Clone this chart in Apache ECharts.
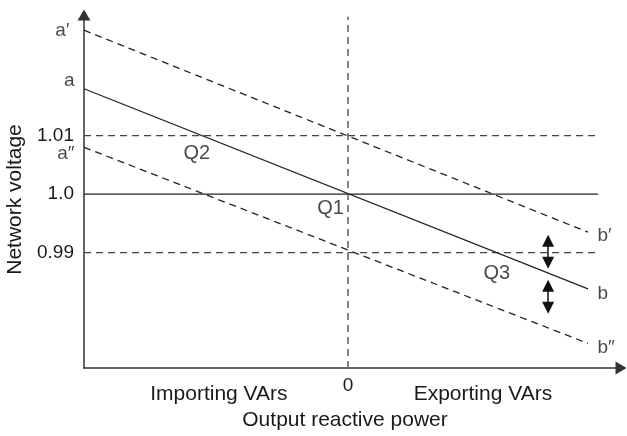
<!DOCTYPE html>
<html>
<head>
<meta charset="utf-8">
<script src="https://cdn.jsdelivr.net/npm/echarts@6/dist/echarts.min.js"></script>
<style>html,body{margin:0;padding:0;background:#fff;}#c{width:627px;height:436px;}</style>
</head>
<body>
<div id="c"></div>
<script>
// ---- data ----
const xMin = -1, xMax = 1.034;
const yMin = 0.9703, yMax = 1.0306;
const yTickValues = [0.99, 1.0, 1.01];
const yTickLabels = ['0.99', '1.0', '1.01'];
const xTickValues = [-0.489, 0, 0.511];
const xTickLabels = ['Importing VArs', '0', 'Exporting VArs'];
const lineA = [[-1, 1.018], [0.909, 0.9838]];
const lineAPrime = [[-1, 1.028], [0.909, 0.9935]];
const lineADouble = [[-1, 1.008], [0.909, 0.9745]];
const refDashed = [1.01, 0.99];
const refSolid = [1.0];
const refLineX = [-1, 0.947];
const zeroLine = [[0, 0.9703], [0, 1.0303]];
const qPoints = [[-0.556, 1.01], [0, 1.0], [0.556, 0.99]];
const qNames = ['Q2', 'Q1', 'Q3'];
const startNames = ['a′', 'a', 'a″'];
const endNames = ['b′', 'b', 'b″'];
const arrowX = 0.758;
const arrowUpper = [0.99205, 0.98829];
const arrowLower = [0.98436, 0.98060];

const FONT = "'Liberation Sans', Arial, Helvetica, sans-serif";
const FS = 19;      // digits and curve letters
const FS_WORD = 21; // words
const FS_Q = 20;
const TXT = '#1a1a1a';

function nearestLabel(vals, labels, v) {
  let best = 0;
  for (let i = 1; i < vals.length; i++) if (Math.abs(vals[i] - v) < Math.abs(vals[best] - v)) best = i;
  return labels[best];
}

const curves = [lineAPrime, lineA, lineADouble];

const series = [];
refDashed.forEach(v => series.push({
  type: 'line', data: refLineX.map(x => [x, v]), symbol: 'none', silent: true,
  lineStyle: {color: '#444', width: 1.3, type: [7, 5]}
}));
refSolid.forEach(v => series.push({
  type: 'line', data: refLineX.map(x => [x, v]), symbol: 'none', silent: true,
  lineStyle: {color: '#222', width: 1.3}
}));
series.push({type: 'line', data: zeroLine, symbol: 'none', lineStyle: {color: '#666', width: 1.6, type: [7, 5]}});
series.push({type: 'line', data: lineAPrime, symbol: 'none', lineStyle: {color: '#222', width: 1.3, type: [7, 5]}});
series.push({type: 'line', data: lineA, symbol: 'none', lineStyle: {color: '#222', width: 1.3}});
series.push({type: 'line', data: lineADouble, symbol: 'none', lineStyle: {color: '#222', width: 1.3, type: [7, 5]}});

const startOffsets = [[0, 1], [0, -8], [0, 6]];
const startDist = [14, 9, 9];
series.push({
  type: 'scatter', symbolSize: 1, itemStyle: {color: 'rgba(0,0,0,0)'},
  data: curves.map((c, i) => ({
    value: c[0], name: startNames[i],
    label: {show: true, position: 'left', distance: startDist[i], offset: startOffsets[i], formatter: startNames[i],
      color: TXT, fontFamily: FONT, fontSize: FS}
  }))
});
const endOffsets = [[0, 4], [0, 5], [0, 4]];
series.push({
  type: 'scatter', symbolSize: 1, itemStyle: {color: 'rgba(0,0,0,0)'},
  data: curves.map((c, i) => ({
    value: c[1], name: endNames[i],
    label: {show: true, position: 'right', distance: 9, offset: endOffsets[i], formatter: endNames[i],
      color: TXT, fontFamily: FONT, fontSize: FS}
  }))
});
const qOffsets = [[-4.5, 17.5], [-17.5, 14.5], [2, 20.5]];
series.push({
  type: 'scatter', symbolSize: 1, itemStyle: {color: 'rgba(0,0,0,0)'},
  data: qPoints.map((p, i) => ({
    value: p, name: qNames[i],
    label: {show: true, position: 'inside', offset: qOffsets[i], formatter: qNames[i],
      color: TXT, fontFamily: FONT, fontSize: FS_Q}
  }))
});
series.push({
  type: 'lines', coordinateSystem: 'cartesian2d', symbol: ['triangle', 'triangle'], symbolSize: 12,
  lineStyle: {color: '#111', width: 1.5, opacity: 1},
  itemStyle: {color: '#111'},
  data: [
    {coords: [[arrowX, arrowUpper[0]], [arrowX, arrowUpper[1]]]},
    {coords: [[arrowX, arrowLower[0]], [arrowX, arrowLower[1]]]}
  ]
});

const chart = echarts.init(document.getElementById('c'));
chart.setOption({
  animation: false,
  backgroundColor: '#fff',
  grid: {left: 84, right: 6, top: 15, bottom: 68, containLabel: false, outerBoundsMode: 'none'},
  xAxis: {
    type: 'value', min: xMin, max: xMax,
    name: 'Output reactive power', nameLocation: 'middle', nameGap: 42,
    nameTextStyle: {color: TXT, fontFamily: FONT, fontSize: FS_WORD, padding: [0, 15, 0, 0]},
    axisLine: {show: true, onZero: false, symbol: ['none', 'triangle'], symbolSize: [13, 11],
      lineStyle: {color: '#333', width: 1.5}},
    axisTick: {show: false},
    splitLine: {show: false},
    axisLabel: {
      customValues: xTickValues, margin: 8, showMinLabel: true, showMaxLabel: true,
      fontFamily: FONT, fontSize: FS, color: TXT,
      formatter: v => {
        const t = nearestLabel(xTickValues, xTickLabels, v);
        return t === '0' ? '{z|0}' : '{t|' + t + '}';
      },
      rich: {
        z: {fontFamily: FONT, fontSize: FS, color: TXT},
        t: {fontFamily: FONT, fontSize: FS_WORD, color: TXT, padding: [8, 0, 0, 0]}
      }
    }
  },
  yAxis: {
    type: 'value', min: yMin, max: yMax,
    name: 'Network voltage', nameLocation: 'middle', nameGap: 52, nameRotate: 90,
    nameTextStyle: {color: TXT, fontFamily: FONT, fontSize: FS_WORD, padding: [0, 16, 0, 0]},
    axisLine: {show: true, onZero: false, symbol: ['none', 'triangle'], symbolSize: [13, 11],
      lineStyle: {color: '#333', width: 1.5}},
    axisTick: {show: false},
    splitLine: {show: false},
    axisLabel: {
      customValues: yTickValues, margin: 10,
      fontFamily: FONT, fontSize: FS, color: TXT,
      formatter: v => nearestLabel(yTickValues, yTickLabels, v)
    }
  },
  series: series
});
</script>
</body>
</html>
